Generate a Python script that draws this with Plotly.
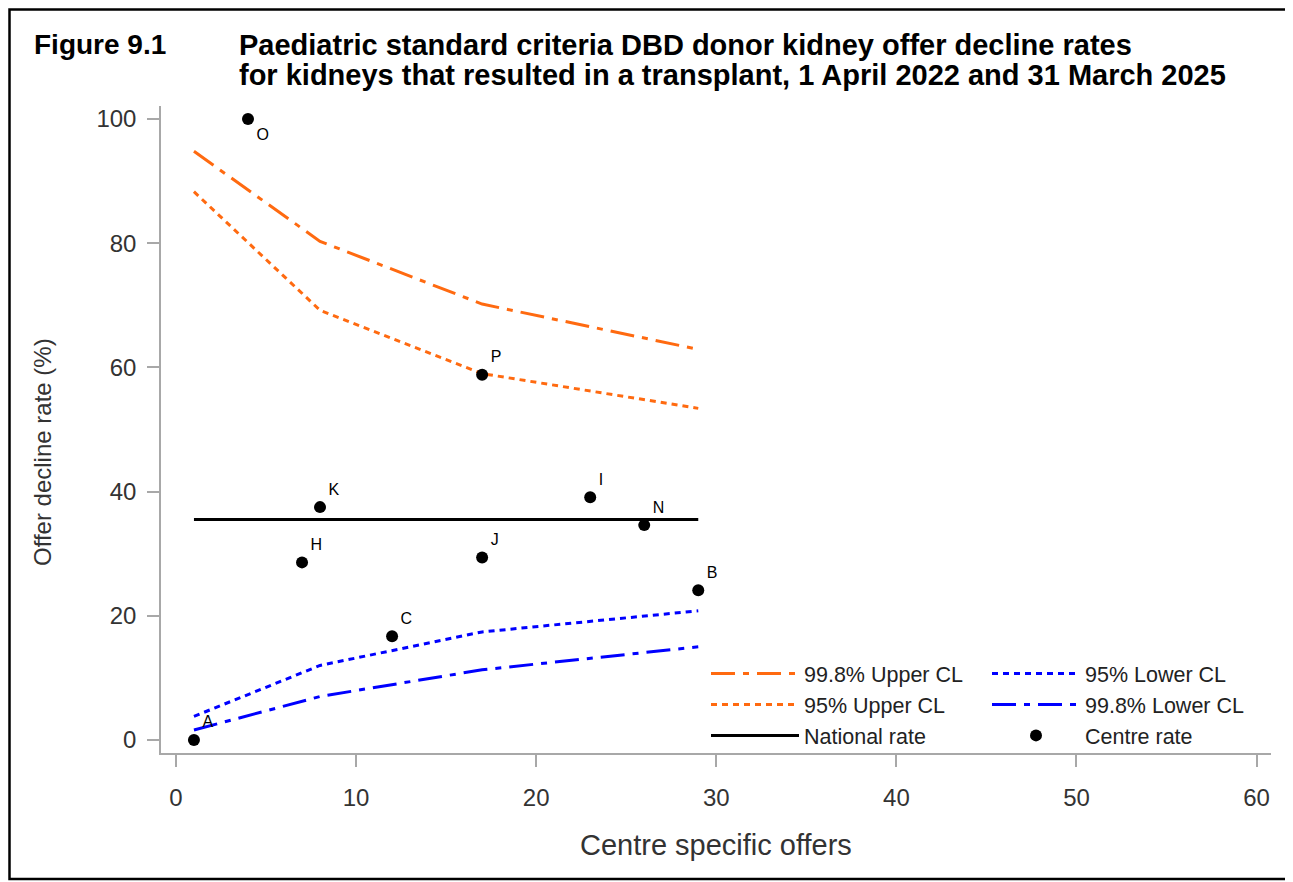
import plotly.graph_objects as go

# ---- data ----
centres = ["A", "O", "H", "K", "C", "P", "J", "I", "N", "B"]
centre_offers = [1, 4, 7, 8, 12, 17, 17, 23, 26, 29]
centre_rate = [0.0, 100.0, 28.6, 37.5, 16.7, 58.8, 29.4, 39.1, 34.6, 24.1]
label_pos = ["top right", "bottom right", "top right", "top right", "top right",
             "top right", "top right", "top right", "top right", "top right"]

cl_offers = [1, 8, 17, 29]
upper_998 = [94.8, 80.3, 70.2, 62.9]
upper_95 = [88.3, 69.2, 59.0, 53.4]
lower_95 = [3.8, 12.0, 17.4, 20.8]
lower_998 = [1.6, 7.0, 11.3, 15.0]

national_offers = [1, 29]
national_rate = [35.5, 35.5]

x_ticks = [0, 10, 20, 30, 40, 50, 60]
y_ticks = [0, 20, 40, 60, 80, 100]

ORANGE = "#FF6A10"
BLUE = "#0000FF"
FONT = "Liberation Sans, Arial, sans-serif"

# ---- layout geometry (pixels, figure coords; page places figure at +8,+8) ----
OFF = 8
W, H = 1293, 882
L, R, T, B = 153, 30, 98, 137
PW, PH = W - L - R, H - T - B


def px(x):
    """screen x -> paper x"""
    return (x - OFF - L) / PW


def py(y):
    """screen y -> paper y"""
    return (H - B - (y - OFF)) / PH


fig = go.Figure()

dash998 = "24px,8px,6px,8px"
dash95 = "6px,5px"

fig.add_trace(go.Scatter(x=cl_offers, y=upper_998, mode="lines", name="99.8% Upper CL",
                         line=dict(color=ORANGE, width=3, dash=dash998),
                         legend="legend", legendgroup="a"))
fig.add_trace(go.Scatter(x=cl_offers, y=upper_95, mode="lines", name="95% Upper CL",
                         line=dict(color=ORANGE, width=3, dash=dash95),
                         legend="legend", legendgroup="b"))
fig.add_trace(go.Scatter(x=national_offers, y=national_rate, mode="lines", name="National rate",
                         line=dict(color="black", width=3),
                         legend="legend", legendgroup="c"))
fig.add_trace(go.Scatter(x=cl_offers, y=lower_95, mode="lines", name="95% Lower CL",
                         line=dict(color=BLUE, width=3, dash=dash95),
                         legend="legend2", legendgroup="d"))
fig.add_trace(go.Scatter(x=cl_offers, y=lower_998, mode="lines", name="99.8% Lower CL",
                         line=dict(color=BLUE, width=3, dash=dash998),
                         legend="legend2", legendgroup="e"))
fig.add_trace(go.Scatter(x=centre_offers, y=centre_rate, mode="markers+text", name="Centre rate",
                         text=centres, textposition=label_pos,
                         textfont=dict(family=FONT, size=16, color="black"),
                         marker=dict(color="black", size=12),
                         legend="legend2", legendgroup="f"))

axis_common = dict(showline=True, linecolor="#A8A8A8", linewidth=1.5, ticks="outside",
                   ticklen=12, tickcolor="#A8A8A8", tickwidth=1.5, showgrid=False,
                   zeroline=False, tickfont=dict(family=FONT, size=24, color="#333333"))

legend_common = dict(font=dict(family=FONT, size=21.5, color="#222222"), bgcolor="rgba(0,0,0,0)",
                     itemwidth=88, tracegroupgap=0, xanchor="left", yanchor="top",
                     traceorder="normal")

fig.update_layout(
    width=W, height=H,
    margin=dict(l=L, r=R, t=T, b=B),
    paper_bgcolor="white", plot_bgcolor="white",
    showlegend=True,
    xaxis=dict(range=[-0.83, 60.8], tickvals=x_ticks, ticklabelstandoff=10, **axis_common),
    yaxis=dict(range=[-2.1, 102.1], tickvals=y_ticks, ticklabelstandoff=6, **axis_common),
    legend=dict(x=px(706), y=py(653), **legend_common),
    legend2=dict(x=px(987), y=py(653), **legend_common),
    annotations=[
        dict(text="<b>Figure 9.1</b>", x=px(32), y=py(45), xref="paper", yref="paper",
             xanchor="left", yanchor="middle", showarrow=False,
             font=dict(family=FONT, size=28, color="black")),
        dict(text="<b>Paediatric standard criteria DBD donor kidney offer decline rates</b>",
             x=px(237), y=py(45), xref="paper", yref="paper",
             xanchor="left", yanchor="middle", showarrow=False,
             font=dict(family=FONT, size=29, color="black")),
        dict(text="<b>for kidneys that resulted in a transplant, 1 April 2022 and 31 March 2025</b>",
             x=px(237), y=py(75), xref="paper", yref="paper",
             xanchor="left", yanchor="middle", showarrow=False,
             font=dict(family=FONT, size=29, color="black")),
        dict(text="Offer decline rate (%)", x=px(42), y=py(452), xref="paper", yref="paper",
             xanchor="center", yanchor="middle", showarrow=False, textangle=-90,
             font=dict(family=FONT, size=24, color="#333333")),
        dict(text="Centre specific offers", x=0.5, y=py(845), xref="paper", yref="paper",
             xanchor="center", yanchor="middle", showarrow=False,
             font=dict(family=FONT, size=29, color="#333333")),
    ],
    shapes=[
        dict(type="rect", xref="paper", yref="paper", x0=px(9.5), x1=px(1287),
             y0=py(879), y1=py(9.5), line=dict(color="black", width=2.5), layer="below"),
    ],
)

fig.write_html("out.html")
